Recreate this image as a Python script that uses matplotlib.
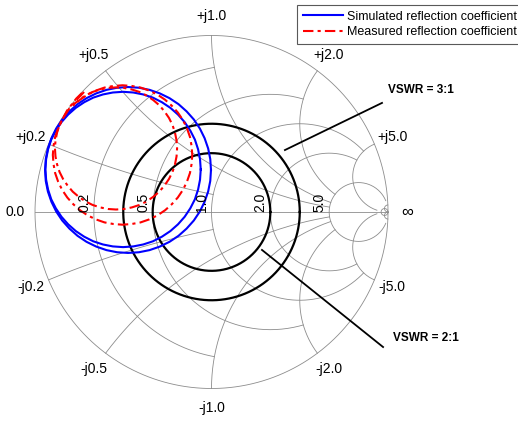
import numpy as np
import matplotlib
matplotlib.use("Agg")
import matplotlib.pyplot as plt

plt.rcParams['font.family'] = ['Liberation Sans', 'DejaVu Sans']

sim1_re = [-0.003, -0.007, -0.019, -0.039, -0.066, -0.100, -0.141, -0.187, -0.238, -0.293, -0.351, -0.411,
           -0.473, -0.535, -0.595, -0.653, -0.708, -0.759, -0.805, -0.846, -0.880, -0.907, -0.927, -0.939,
           -0.943, -0.939, -0.927, -0.907, -0.880, -0.846, -0.805, -0.759, -0.708, -0.653, -0.595, -0.535,
           -0.473, -0.411, -0.351, -0.293, -0.238, -0.187, -0.141, -0.100, -0.066, -0.039, -0.019, -0.007, -0.003]
sim1_im = [0.238, 0.300, 0.360, 0.418, 0.473, 0.524, 0.570, 0.611, 0.645, 0.672, 0.692, 0.704,
           0.708, 0.704, 0.692, 0.672, 0.645, 0.611, 0.570, 0.524, 0.473, 0.418, 0.360, 0.300,
           0.238, 0.176, 0.116, 0.058, 0.003, -0.048, -0.094, -0.135, -0.169, -0.196, -0.216, -0.228,
           -0.232, -0.228, -0.216, -0.196, -0.169, -0.135, -0.094, -0.048, 0.003, 0.058, 0.116, 0.176, 0.238]
sim2_re = [-0.061, -0.065, -0.076, -0.094, -0.120, -0.152, -0.190, -0.233, -0.281, -0.332, -0.387, -0.443,
           -0.501, -0.559, -0.615, -0.670, -0.721, -0.769, -0.812, -0.850, -0.882, -0.908, -0.926, -0.937,
           -0.941, -0.937, -0.926, -0.908, -0.882, -0.850, -0.812, -0.769, -0.721, -0.670, -0.615, -0.559,
           -0.501, -0.443, -0.387, -0.332, -0.281, -0.233, -0.190, -0.152, -0.120, -0.094, -0.076, -0.065, -0.061]
sim2_im = [0.241, 0.299, 0.355, 0.410, 0.461, 0.509, 0.552, 0.590, 0.622, 0.648, 0.666, 0.677,
           0.681, 0.677, 0.666, 0.648, 0.622, 0.590, 0.552, 0.509, 0.461, 0.410, 0.355, 0.299,
           0.241, 0.183, 0.127, 0.072, 0.021, -0.027, -0.070, -0.108, -0.140, -0.166, -0.184, -0.195,
           -0.199, -0.195, -0.184, -0.166, -0.140, -0.108, -0.070, -0.027, 0.021, 0.072, 0.127, 0.183, 0.241]
meas1_re = [-0.734, -0.766, -0.819,
            -0.846, -0.869, -0.886, -0.895, -0.899, -0.895, -0.886, -0.869, -0.846, -0.817, -0.783, -0.745,
            -0.702, -0.655, -0.606, -0.556, -0.504, -0.452, -0.402, -0.353, -0.306, -0.263, -0.225, -0.191,
            -0.162, -0.139, -0.122, -0.113, -0.109, -0.113, -0.122, -0.139, -0.162, -0.191, -0.225, -0.263,
            -0.306, -0.353, -0.402, -0.452, -0.504, -0.556, -0.606, -0.655, -0.702, -0.745, -0.783]
meas1_im = [0.674, 0.643, 0.574,
            0.521, 0.474, 0.425, 0.375, 0.323, 0.271, 0.221, 0.172, 0.125, 0.082, 0.044, 0.010,
            -0.019, -0.042, -0.059, -0.068, -0.072, -0.068, -0.059, -0.042, -0.019, 0.010, 0.044, 0.082,
            0.125, 0.172, 0.221, 0.271, 0.323, 0.375, 0.425, 0.474, 0.521, 0.564, 0.602, 0.636,
            0.665, 0.688, 0.705, 0.714, 0.718, 0.714, 0.705, 0.688, 0.665, 0.636, 0.602]
meas2_re = [-0.722, -0.760, -0.806,
            -0.841, -0.861, -0.875, -0.884, -0.887, -0.884, -0.875, -0.861, -0.841, -0.815, -0.786, -0.752,
            -0.714, -0.674, -0.631, -0.586, -0.541, -0.496, -0.451, -0.408, -0.368, -0.330, -0.296, -0.267,
            -0.241, -0.221, -0.207, -0.198, -0.195, -0.198, -0.207, -0.221, -0.241, -0.267, -0.296, -0.330,
            -0.368, -0.408, -0.451, -0.496, -0.541, -0.586, -0.631, -0.674, -0.714, -0.752, -0.786]
meas2_im = [0.680, 0.640, 0.585,
            0.533, 0.493, 0.450, 0.405, 0.360, 0.315, 0.270, 0.227, 0.187, 0.149, 0.115, 0.086,
            0.060, 0.040, 0.026, 0.017, 0.014, 0.017, 0.026, 0.040, 0.060, 0.086, 0.115, 0.149,
            0.187, 0.227, 0.270, 0.315, 0.360, 0.405, 0.450, 0.493, 0.533, 0.571, 0.605, 0.634,
            0.660, 0.680, 0.694, 0.703, 0.706, 0.703, 0.694, 0.680, 0.660, 0.634, 0.605]

vswr = [2, 3]
r_vals = [0.2, 0.5, 1, 2, 5, 50]
r_lims = [1, 2, 5, 5, 30, np.inf]
x_vals = [0.2, 0.5, 1, 2, 5, 50]
x_lims = [1, 5, 5, 5, 30, np.inf]
x_labels = ['0.2', '0.5', '1.0', '2.0', '5.0']

grid_c = '#8c8c8c'
grid_lw = 0.6

fig = plt.figure(figsize=(5.18, 4.22), dpi=100)
ax = fig.add_axes([0, 0, 1, 1])
ax.set_xlim(-1.1983, 1.7365)
ax.set_ylim(-1.1898, 1.2011)
ax.axis('off')


def gam(z):
    return (z - 1) / (z + 1)


# outer circle and real axis
t = np.linspace(0, 2 * np.pi, 400)
ax.plot(np.cos(t), np.sin(t), color=grid_c, lw=grid_lw)
ax.plot([-1, 1], [0, 0], color=grid_c, lw=grid_lw)

# constant resistance circles
for r, lim in zip(r_vals, r_lims):
    c, rad = r / (1 + r), 1 / (1 + r)
    if np.isinf(lim):
        a0 = 0.0
    else:
        g = gam(r + 1j * lim)
        a0 = np.angle(g - c)
    a = np.linspace(a0, 2 * np.pi - a0, 300)
    ax.plot(c + rad * np.cos(a), rad * np.sin(a), color=grid_c, lw=grid_lw)

# constant reactance arcs
for x, lim in zip(x_vals, x_lims):
    for s in (1, -1):
        cen = 1 + 1j * s / x
        g0 = gam(1j * s * x)
        g1 = 1.0 if np.isinf(lim) else gam(lim + 1j * s * x)
        a0 = np.angle(g0 - cen)
        a1 = np.angle(g1 - cen)
        d = (a1 - a0 + np.pi) % (2 * np.pi) - np.pi
        a = np.linspace(a0, a0 + d, 200)
        p = cen + (1 / x) * np.exp(1j * a)
        ax.plot(p.real, p.imag, color=grid_c, lw=grid_lw)

# labels
lab_r = 1.11
for x, lab in zip(x_vals[:5], x_labels):
    for s, sign in ((1, '+'), (-1, '-')):
        g = gam(1j * s * x)
        ax.text(lab_r * g.real, lab_r * g.imag, sign + 'j' + lab, fontsize=10,
                ha='center', va='center')
    # resistance labels along the real axis
    g = gam(x)
    ax.text(g.real - 0.015, 0.0, lab, fontsize=10, rotation=90, ha='right', va='bottom')
ax.text(-lab_r, 0, '0.0', fontsize=10, ha='center', va='center')
ax.text(lab_r, 0, '\u221e', fontsize=12, ha='center', va='center')

# VSWR circles
for v in vswr:
    rho = (v - 1) / (v + 1)
    ax.plot(rho * np.cos(t), rho * np.sin(t), color='black', lw=1.6)

dash = (0, (5, 2, 1.5, 2))
ax.plot(sim1_re, sim1_im, color='blue', lw=1.5, label='Simulated reflection coefficient')
ax.plot(sim2_re, sim2_im, color='blue', lw=1.5)
ax.plot(meas1_re, meas1_im, color='red', lw=1.5, ls=dash, label='Measured reflection coefficient')
ax.plot(meas2_re, meas2_im, color='red', lw=1.5, ls=dash)

# annotations
ax.plot([0.416, 0.966], [0.351, 0.618], color='black', lw=1.3)
ax.text(1.0, 0.691, 'VSWR = 3:1', fontsize=8.5, fontweight='bold', ha='left', va='center')
ax.plot([0.286, 0.972], [-0.215, -0.765], color='black', lw=1.3)
ax.text(1.03, -0.716, 'VSWR = 2:1', fontsize=8.5, fontweight='bold', ha='left', va='center')

leg = ax.legend(loc='upper left', bbox_to_anchor=(297 / 518, 1 - 5 / 422),
                bbox_transform=fig.transFigure, fontsize=9, fancybox=False,
                edgecolor='0.35', framealpha=1, borderaxespad=0, borderpad=0.45,
                labelspacing=0.3, handlelength=3.2, handletextpad=0.35)
leg.get_frame().set_linewidth(0.8)

fig.savefig('out.png', dpi=100)
